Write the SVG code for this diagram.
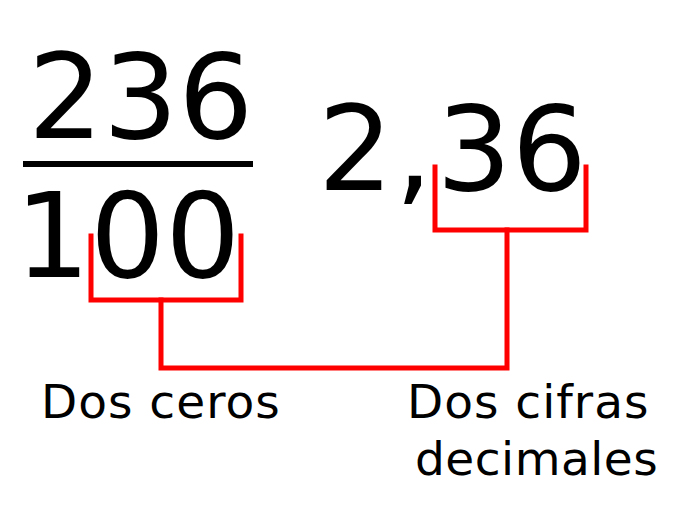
<svg xmlns="http://www.w3.org/2000/svg" width="683" height="510" viewBox="0 0 683 510">
<style>
.num{font-family:"DejaVu Sans",Verdana,sans-serif;font-size:118px;fill:#000}
.lbl{font-family:"DejaVu Sans",Verdana,sans-serif;font-size:47px;letter-spacing:1px;fill:#000}
.br{fill:none;stroke:#ff0000;stroke-width:5;stroke-linecap:square;stroke-linejoin:miter}
</style>
<rect width="683" height="510" fill="#fff"/>
<g id="fraction">
<text class="num" x="28" y="138">236</text>
<line x1="23" y1="164" x2="253" y2="164" stroke="#000" stroke-width="6"/>
<text class="num" x="15" y="277">100</text>
</g>
<g id="decimal">
<text class="num" x="318" y="190">2<tspan dx="2">,</tspan><tspan dx="4">36</tspan></text>
</g>
<g id="label-ceros">
<text class="lbl" x="41" y="418">Dos ceros</text>
</g>
<g id="label-cifras">
<text class="lbl" x="407" y="418">Dos cifras</text>
<text class="lbl" x="415" y="475" style="letter-spacing:0.5px">decimales</text>
</g>
<g id="connectors">
<path class="br" d="M91,236 V300 H241 V236"/>
<path class="br" d="M435,167 V230 H586 V167"/>
<path class="br" d="M161,300 V368 H507 V230"/>
</g>
</svg>
